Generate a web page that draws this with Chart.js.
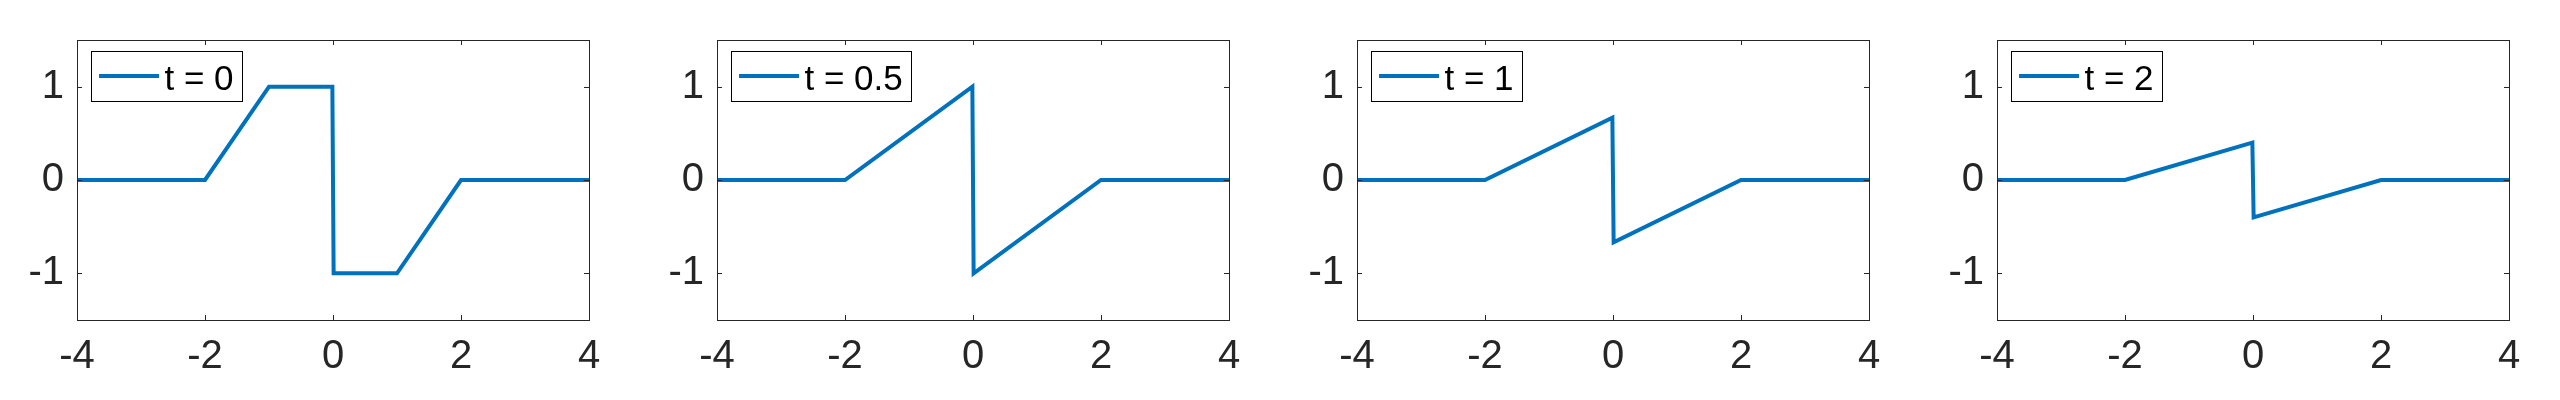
<!DOCTYPE html>
<html>
<head>
<meta charset="utf-8">
<title>N-wave, t = 0 .. 2</title>
<script src="https://cdn.jsdelivr.net/npm/chart.js@4.4.1/dist/chart.umd.min.js"></script>
<style>
  html, body { margin: 0; padding: 0; background: #fff; }
  #row { display: flex; width: 2560px; height: 400px; }
  #row canvas { display: block; width: 640px; height: 400px; }
</style>
</head>
<body>
<div id="row">
  <canvas id="c0" width="640" height="400"></canvas>
  <canvas id="c1" width="640" height="400"></canvas>
  <canvas id="c2" width="640" height="400"></canvas>
  <canvas id="c3" width="640" height="400"></canvas>
</div>
<script>
// --- 1. DATOS ---
const legendLabels = ['t = 0', 't = 0.5', 't = 1', 't = 2'];

const xT0 = [-4, -2, -1, -0.01, 0.01, 1, 2, 4];
const yT0 = [0, 0, 1, 1, -1, -1, 0, 0];

const xT05 = [-4, -2, -0.01, 0.01, 2, 4];
const yT05 = [0, 0, 1, -1, 0, 0];

const xT1 = [-4, -2, -0.01, 0.01, 2, 4];
const yT1 = [0, 0, 0.667, -0.667, 0, 0];

const xT2 = [-4, -2, -0.01, 0.01, 2, 4];
const yT2 = [0, 0, 0.4, -0.4, 0, 0];

const xTicks = [-4, -2, 0, 2, 4];
const yTicks = [-1, 0, 1];
const xRange = [-4, 4];
const yRange = [-1.5, 1.5];

// --- 2. ESTILO ---
const BLUE = '#0072BD';
const AXIS = '#262626';
const FONT = '"Liberation Sans", Helvetica, Arial, sans-serif';
const TICK_LEN = 5;

// marco, ticks hacia dentro y leyenda dentro del área
const framePlugin = {
    id: 'frame',
    afterDatasetsDraw(chart) {
        const { ctx, chartArea: a, scales } = chart;
        ctx.save();
        ctx.strokeStyle = AXIS;
        ctx.lineWidth = 1;

        ctx.beginPath();
        scales.x.ticks.forEach(t => {
            const px = Math.round(scales.x.getPixelForValue(t.value)) + 0.5;
            ctx.moveTo(px, a.bottom); ctx.lineTo(px, a.bottom - TICK_LEN);
            ctx.moveTo(px, a.top); ctx.lineTo(px, a.top + TICK_LEN);
        });
        scales.y.ticks.forEach(t => {
            const py = Math.round(scales.y.getPixelForValue(t.value)) + 0.5;
            ctx.moveTo(a.left, py); ctx.lineTo(a.left + TICK_LEN, py);
            ctx.moveTo(a.right, py); ctx.lineTo(a.right - TICK_LEN, py);
        });
        ctx.stroke();
        ctx.strokeRect(a.left + 0.5, a.top + 0.5, a.width, a.height);

        // leyenda
        const ds = chart.data.datasets[0];
        ctx.font = '35px ' + FONT;
        const tw = ctx.measureText(ds.label).width;
        const bx = a.left + 14.5, by = a.top + 11.5;
        const bw = Math.round(73 + tw + 9), bh = 50;
        ctx.fillStyle = '#fff';
        ctx.fillRect(bx, by, bw, bh);
        ctx.strokeStyle = '#000';
        ctx.strokeRect(bx, by, bw, bh);

        ctx.strokeStyle = ds.borderColor;
        ctx.lineWidth = ds.borderWidth;
        ctx.beginPath();
        ctx.moveTo(bx + 7.5, by + 24.5);
        ctx.lineTo(bx + 67.5, by + 24.5);
        ctx.stroke();

        ctx.fillStyle = '#000';
        ctx.textBaseline = 'alphabetic';
        ctx.textAlign = 'left';
        ctx.fillText(ds.label, bx + 73, by + 38);
        ctx.restore();
    }
};

function makeChart(id, label, xs, ys) {
    return new Chart(document.getElementById(id), {
        type: 'line',
        data: {
            datasets: [{
                label: label,
                data: xs.map((x, i) => ({ x: x, y: ys[i] })),
                borderColor: BLUE,
                borderWidth: 4,
                borderJoinStyle: 'miter',
                pointRadius: 0,
                tension: 0,
                fill: false
            }]
        },
        options: {
            responsive: false,
            animation: false,
            devicePixelRatio: 1,
            layout: { padding: { top: 40, right: 51, bottom: 0, left: 0 } },
            plugins: { legend: { display: false }, tooltip: { enabled: false } },
            scales: {
                x: {
                    type: 'linear',
                    min: xRange[0], max: xRange[1],
                    afterBuildTicks: s => { s.ticks = xTicks.map(v => ({ value: v })); },
                    afterFit: s => { s.height = 80; },
                    grid: { display: false, drawTicks: false },
                    border: { display: false },
                    ticks: { padding: 13, color: AXIS, font: { family: FONT, size: 40 }, autoSkip: false, maxRotation: 0 }
                },
                y: {
                    type: 'linear',
                    min: yRange[0], max: yRange[1],
                    afterBuildTicks: s => { s.ticks = yTicks.map(v => ({ value: v })); },
                    afterFit: s => { s.width = 77; },
                    grid: { display: false, drawTicks: false },
                    border: { display: false },
                    ticks: { padding: 13, color: AXIS, font: { family: FONT, size: 40 }, autoSkip: false }
                }
            }
        },
        plugins: [framePlugin]
    });
}

// --- 3. INICIALIZACIÓN ---
makeChart('c0', legendLabels[0], xT0, yT0);
makeChart('c1', legendLabels[1], xT05, yT05);
makeChart('c2', legendLabels[2], xT1, yT1);
makeChart('c3', legendLabels[3], xT2, yT2);
</script>
</body>
</html>
